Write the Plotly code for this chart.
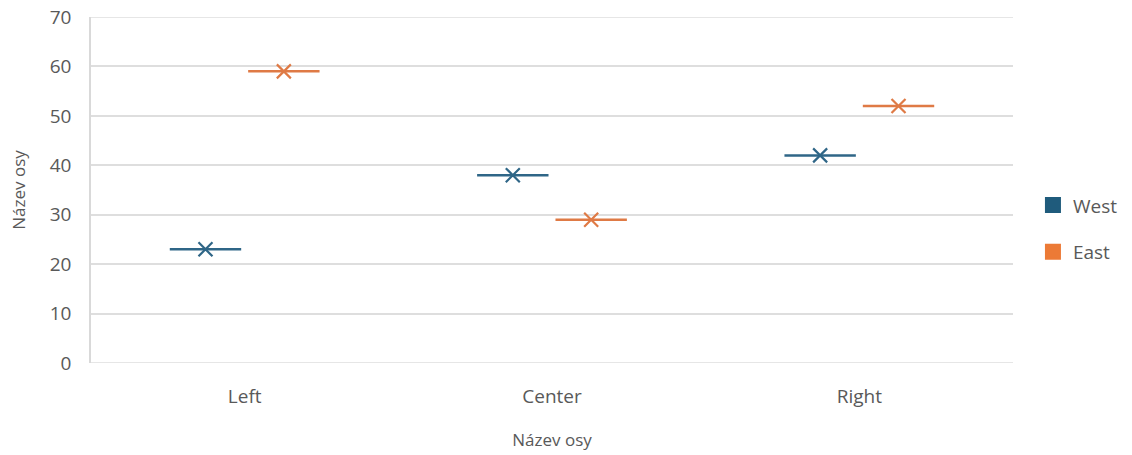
import plotly.graph_objects as go

categories = ["Left", "Center", "Right"]
west = [23, 38, 42]
east = [59, 29, 52]
series_names = ["West", "East"]
line_colors = ["#2f6687", "#df7a45"]
legend_colors = ["#1f5b7c", "#ec7a36"]
grid_color = "#dedede"

fig = go.Figure()
for name, vals, lc, gc in zip(series_names, [west, east], line_colors, legend_colors):
    # median line
    fig.add_trace(go.Scatter(
        x=categories, y=vals, mode="markers", name=name, offsetgroup=name,
        marker=dict(symbol="line-ew", size=51, color=lc, line=dict(color=lc, width=2.5)),
        showlegend=False, hoverinfo="x+y"))
    # mean marker
    fig.add_trace(go.Scatter(
        x=categories, y=vals, mode="markers", name=name, offsetgroup=name,
        marker=dict(symbol="x-thin", size=14, color=lc, line=dict(color=lc, width=2.2)),
        showlegend=False, hoverinfo="x+y"))
    # legend entry
    fig.add_trace(go.Scatter(
        x=[None], y=[None], mode="markers", name=name, offsetgroup=name,
        legendgroup=name,
        marker=dict(symbol="square", size=16, color=gc), showlegend=True))

fig.update_layout(
    width=1132, height=455,
    margin=dict(l=91, r=119, t=17, b=92),
    paper_bgcolor="white", plot_bgcolor="white",
    font=dict(family="Open Sans, sans-serif", size=16, color="#595959"),
    scattermode="group", scattergap=0.49,
    showlegend=True,
    legend=dict(xref="container", x=0.9125, y=0.388, xanchor="left", yanchor="middle",
                font=dict(size=19, color="#595959"), tracegroupgap=19,
                itemwidth=30),
    xaxis=dict(
        type="category", showgrid=False, zeroline=False, automargin=False,
        showline=False, ticks="", ticklen=0, ticklabelstandoff=20,
        tickfont=dict(size=19, color="#595959"),
        title=dict(text="Název osy", font=dict(size=17, color="#595959"), standoff=26),
    ),
    yaxis=dict(
        range=[0, 70], dtick=10, showgrid=True, gridcolor=grid_color, gridwidth=1.5,
        zeroline=False, showline=True, linecolor="#d9d9d9", linewidth=1.5,
        automargin=False, ticks="", ticklabelstandoff=14,
        tickfont=dict(size=19, color="#595959"),
        title=dict(text="Název osy", font=dict(size=17, color="#595959"), standoff=20),
    ),
)
for yv in (0, 70):
    fig.add_shape(type="line", xref="paper", yref="y", x0=0, x1=1, y0=yv, y1=yv,
                  line=dict(color=grid_color, width=1.5), layer="below")
fig.write_html(
    "out.html", config={"displayModeBar": False},
    post_script=(
        "document.body.style.margin='0';"
        "document.body.style.overflow='hidden';"
        "document.documentElement.style.overflow='hidden';"
    ),
)
